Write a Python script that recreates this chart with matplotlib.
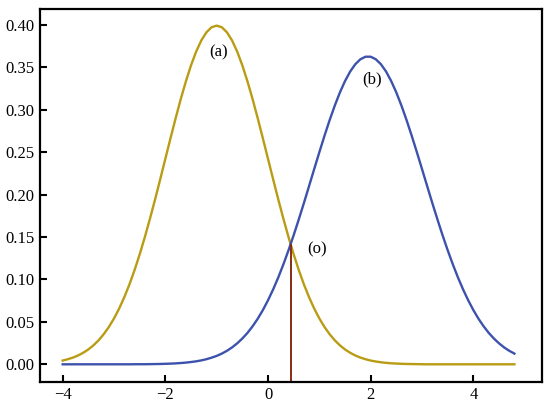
import numpy as np
import matplotlib
matplotlib.use("Agg")
import matplotlib.pyplot as plt

plt.rcParams['font.family'] = ['Liberation Serif', 'DejaVu Serif']

x = np.round(np.arange(-4.0, 4.85, 0.1), 1)

# curve (a)
curve_a = [
    0.0044, 0.0060, 0.0079, 0.0104, 0.0136, 0.0175, 0.0224, 0.0283, 0.0355, 0.0440,
    0.0540, 0.0656, 0.0790, 0.0940, 0.1109, 0.1295, 0.1497, 0.1714, 0.1942, 0.2179,
    0.2420, 0.2661, 0.2897, 0.3123, 0.3332, 0.3521, 0.3683, 0.3814, 0.3910, 0.3970,
    0.3989, 0.3970, 0.3910, 0.3814, 0.3683, 0.3521, 0.3332, 0.3123, 0.2897, 0.2661,
    0.2420, 0.2179, 0.1942, 0.1714, 0.1497, 0.1295, 0.1109, 0.0940, 0.0790, 0.0656,
    0.0540, 0.0440, 0.0355, 0.0283, 0.0224, 0.0175, 0.0136, 0.0104, 0.0079, 0.0060,
    0.0044, 0.0033, 0.0024, 0.0017, 0.0012, 0.0009, 0.0006, 0.0004, 0.0003, 0.0002,
    0.0001, 0.0000, 0.0000, 0.0000, 0.0000, 0.0000, 0.0000, 0.0000, 0.0000, 0.0000,
    0.0000, 0.0000, 0.0000, 0.0000, 0.0000, 0.0000, 0.0000, 0.0000, 0.0000,
]

# curve (b)
curve_b = [
    0.0000, 0.0000, 0.0000, 0.0000, 0.0000, 0.0000, 0.0000, 0.0000, 0.0000, 0.0000,
    0.0000, 0.0000, 0.0000, 0.0000, 0.0001, 0.0001, 0.0001, 0.0002, 0.0003, 0.0004,
    0.0006, 0.0008, 0.0011, 0.0015, 0.0020, 0.0027, 0.0035, 0.0046, 0.0060, 0.0078,
    0.0099, 0.0126, 0.0159, 0.0199, 0.0247, 0.0304, 0.0370, 0.0448, 0.0537, 0.0639,
    0.0754, 0.0882, 0.1023, 0.1178, 0.1344, 0.1521, 0.1708, 0.1901, 0.2100, 0.2300,
    0.2498, 0.2691, 0.2875, 0.3046, 0.3201, 0.3336, 0.3448, 0.3534, 0.3593, 0.3623,
    0.3623, 0.3593, 0.3534, 0.3448, 0.3336, 0.3201, 0.3046, 0.2875, 0.2691, 0.2498,
    0.2300, 0.2100, 0.1901, 0.1708, 0.1521, 0.1344, 0.1178, 0.1023, 0.0882, 0.0754,
    0.0639, 0.0537, 0.0448, 0.0370, 0.0304, 0.0247, 0.0199, 0.0159, 0.0126,
]

# crossing point (o)
cross_x = 0.45
cross_y = 0.140

labels = ['(a)', '(b)', '(o)']
label_x = [-0.96, 2.03, 0.95]
label_y = [0.367, 0.335, 0.135]

x_ticks = [-4, -2, 0, 2, 4]
y_ticks = [0.00, 0.05, 0.10, 0.15, 0.20, 0.25, 0.30, 0.35, 0.40]

########## plot
fig = plt.figure(figsize=(5.5, 4.05), dpi=100)
ax = fig.add_axes([0.0727, 0.0575, 0.9128, 0.9203])

ax.plot(x, curve_a, color='#b99c14', lw=1.7)
ax.plot(x, curve_b, color='#3c52ad', lw=1.7)
ax.plot([cross_x, cross_x], [-0.03, cross_y], color='#8a2c14', lw=1.4)

for t, tx, ty in zip(labels, label_x, label_y):
    ax.text(tx, ty, t, fontsize=12, ha='center', va='center')

ax.set_xlim(-4.442, 5.338)
ax.set_ylim(-0.0205, 0.4185)
ax.set_xticks(x_ticks)
ax.set_yticks(y_ticks)
ax.set_yticklabels(['%.2f' % v for v in y_ticks])
ax.tick_params(direction='in', length=5, width=1.5, labelsize=12, pad=4)
for s in ax.spines.values():
    s.set_linewidth(1.6)

fig.savefig('out.png', dpi=100)
